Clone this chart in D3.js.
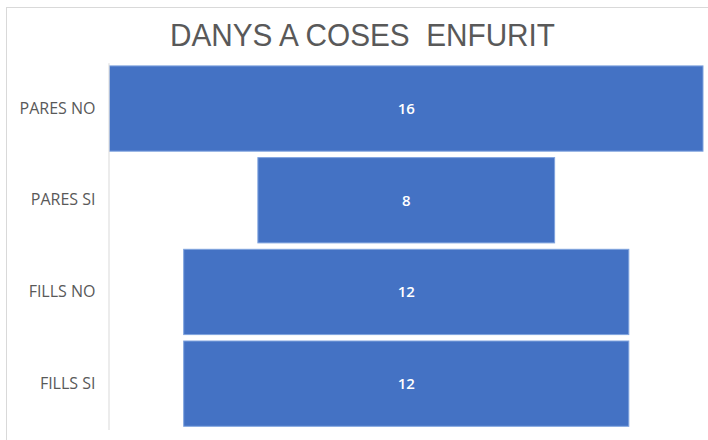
<!DOCTYPE html>
<html>
<head>
<meta charset="utf-8">
<script src="https://cdn.jsdelivr.net/npm/d3@7"></script>
<style>
  html, body { margin: 0; padding: 0; background: #fff; }
  svg { display: block; }
</style>
</head>
<body>
<svg id="chart" width="708" height="440"></svg>
<script>
const title = "DANYS A COSES  ENFURIT";
const categories = ["PARES NO", "PARES SI", "FILLS NO", "FILLS SI"];
const values = [16, 8, 12, 12];

const svg = d3.select("#chart");

// chart border (only top and left visible)
svg.append("rect")
  .attr("x", 6.5).attr("y", 7.5)
  .attr("width", 720).attr("height", 460)
  .attr("fill", "#fff")
  .attr("stroke", "#d9d9d9").attr("stroke-width", 1);

// title
svg.append("text")
  .attr("x", 170).attr("y", 46)
  .attr("textLength", 385)
  .attr("lengthAdjust", "spacingAndGlyphs")
  .attr("font-family", "'Liberation Sans', Arial, sans-serif")
  .attr("font-size", 32)
  .attr("fill", "#595959")
  .attr("xml:space", "preserve")
  .style("white-space", "pre")
  .text(title);

const maxV = d3.max(values);
const x = d3.scaleLinear().domain([-maxV / 2, maxV / 2]).range([109.5, 703]);
const y = d3.scaleBand().domain(categories).range([62.7, 429.5])
  .paddingInner(0.07).paddingOuter(0.035);

const data = categories.map((c, i) => ({ c, v: values[i] }));

svg.selectAll("rect.bar").data(data).join("rect")
  .attr("class", "bar")
  .attr("x", d => x(-d.v / 2))
  .attr("width", d => x(d.v / 2) - x(-d.v / 2))
  .attr("y", d => y(d.c))
  .attr("height", y.bandwidth())
  .attr("fill", "#4472C4")
  .attr("stroke", "#7fa3de")
  .attr("stroke-width", 1);

svg.selectAll("text.val").data(data).join("text")
  .attr("class", "val")
  .attr("x", d => x(0))
  .attr("y", d => y(d.c) + y.bandwidth() / 2)
  .attr("dy", "0.35em")
  .attr("text-anchor", "middle")
  .attr("font-family", "'Open Sans', Lato, sans-serif")
  .attr("font-size", 15)
  .attr("font-weight", 600)
  .attr("fill", "#fff")
  .text(d => d.v);

const axis = svg.append("g")
  .attr("transform", "translate(108.5,0)")
  .call(d3.axisLeft(y).tickSize(0).tickPadding(13));
axis.select(".domain").attr("stroke", "#d9d9d9");
axis.selectAll("text")
  .attr("font-family", "'Open Sans', Lato, sans-serif")
  .attr("font-size", 16)
  .attr("fill", "#595959");
</script>
</body>
</html>
